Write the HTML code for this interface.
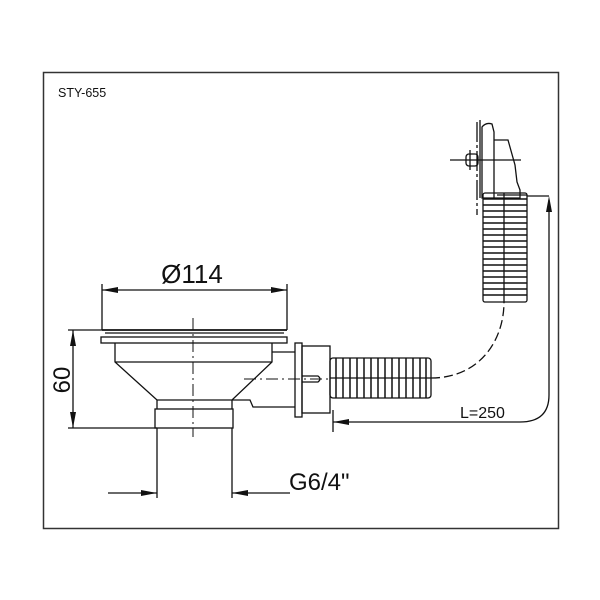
<!DOCTYPE html>
<html><head><meta charset="utf-8"><style>
html,body{margin:0;padding:0;background:#fff;width:600px;height:600px;overflow:hidden}
svg{display:block}
text{font-family:"Liberation Sans",Arial,sans-serif;fill:#111}
</style></head><body>
<svg width="600" height="600" viewBox="0 0 600 600" xmlns="http://www.w3.org/2000/svg">
<rect x="0" y="0" width="600" height="600" fill="#fff"/>
<rect x="43.5" y="72.5" width="515" height="456" fill="none" stroke="#333" stroke-width="1.5"/>
<text x="58" y="97" font-size="12.5">STY-655</text>

<g stroke="#111" stroke-width="1.3" fill="none">
<!-- Ø114 dimension -->
<line x1="102" y1="284" x2="102" y2="330"/>
<line x1="287" y1="284" x2="287" y2="330"/>
<line x1="102" y1="290" x2="287" y2="290"/>
<!-- rim -->
<line x1="102" y1="330" x2="287" y2="330" stroke-width="1.8"/>
<line x1="105" y1="333" x2="284" y2="333"/>
<rect x="101" y="337" width="186" height="6"/>
<!-- bowl -->
<path d="M115 343 L115 362 L157 400 L232 400 L272 362 L272 343"/>
<line x1="115" y1="362" x2="272" y2="362"/>
<rect x="155" y="409" width="78" height="19"/>
<line x1="157" y1="400" x2="157" y2="409"/>
<line x1="232" y1="400" x2="232" y2="409"/>
<!-- side outlet -->
<path d="M272 352 L295 352"/>
<path d="M232 400 L250 400 L253 407 L295 407"/>
<rect x="295" y="343" width="7" height="74"/>
<rect x="302" y="346" width="28" height="67"/>
<path d="M302 376 L318 376 Q322 379 318 382 L302 382"/>
<!-- centerlines -->
<line x1="193" y1="318" x2="193" y2="437" stroke-dasharray="12,4,2,4" stroke-width="1"/>
<line x1="244" y1="379" x2="330" y2="379" stroke-dasharray="12,4,2,4" stroke-width="1"/>
<!-- 60 dimension -->
<line x1="68" y1="330" x2="102" y2="330"/>
<line x1="68" y1="428" x2="157" y2="428"/>
<line x1="73" y1="330" x2="73" y2="428"/>
<!-- G dimension -->
<line x1="157" y1="428" x2="157" y2="498"/>
<line x1="232" y1="428" x2="232" y2="498"/>
<line x1="108" y1="493" x2="157" y2="493"/>
<line x1="232" y1="493" x2="290" y2="493"/>
<!-- horizontal hose -->
<rect x="330" y="358" width="101" height="40" rx="3"/>
<line x1="330" y1="378" x2="431" y2="378"/>
<!-- dashed curve -->
<path d="M431 378 C480 378 504 340 504 302" stroke-dasharray="9,4"/>
<!-- vertical hose -->
<rect x="483" y="193" width="44" height="109" rx="2"/>
<line x1="504" y1="193" x2="504" y2="302"/>
<!-- overflow -->
<line x1="477" y1="122" x2="477" y2="215" stroke-dasharray="20,3,3,3"/>
<line x1="480" y1="120" x2="480" y2="198"/>
<path d="M482 198 L482 127 Q486 122 492 124 L494 132 L494 198 Z"/>
<path d="M494 140 L508 140 L515 165 L517 182 L520 190 L520 198 L494 198"/>
<line x1="497" y1="195" x2="527" y2="195"/>
<rect x="466" y="154" width="12" height="12" rx="3"/>
<line x1="470" y1="150" x2="470" y2="170"/>
<line x1="450" y1="160" x2="521" y2="160"/>
<!-- L=250 -->
<line x1="527" y1="196" x2="549" y2="196"/>
<path d="M333 422 L520 422 Q549 422 549 395 L549 200"/>
<line x1="333" y1="410" x2="333" y2="432"/>
</g>
<!-- hose ribs -->
<g stroke="#111" stroke-width="1.5" fill="none">
<path d="M336 358v40M343 358v40M350 358v40M357 358v40M364 358v40M371 358v40M378 358v40M385 358v40M392 358v40M399 358v40M406 358v40M413 358v40M420 358v40M426 358v40"/>
<path d="M483 199h44M483 205h44M483 211h44M483 217h44M483 223h44M483 229h44M483 235h44M483 241h44M483 247h44M483 253h44M483 259h44M483 265h44M483 271h44M483 277h44M483 283h44M483 289h44M483 295h44"/>
</g>
<!-- arrowheads -->
<g fill="#111">
<polygon points="102,290 118,287 118,293"/>
<polygon points="287,290 271,287 271,293"/>
<polygon points="73,330 70,346 76,346"/>
<polygon points="73,428 70,412 76,412"/>
<polygon points="157,493 141,490 141,496"/>
<polygon points="232,493 248,490 248,496"/>
<polygon points="333,422 349,419 349,425"/>
<polygon points="549,196 546,212 552,212"/>
</g>
<text x="192" y="283" font-size="26" text-anchor="middle">Ø114</text>
<text x="289" y="490" font-size="24">G6/4"</text>
<text x="460" y="418" font-size="16">L=250</text>
<text transform="translate(70,380) rotate(-90)" font-size="24" text-anchor="middle">60</text>
</svg>
</body></html>
